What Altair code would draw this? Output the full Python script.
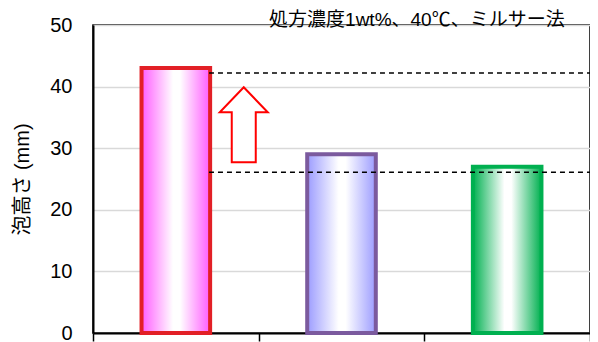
import altair as alt
import pandas as pd

categories = [1, 2, 3]
values = [43.0, 29.0, 27.0]
edge_colors = ["#FF5CFF", "#9C9CFF", "#00B050"]
stroke_colors = ["#E21F26", "#7B5A9E", "#00B050"]

ref_levels = [42.2, 26.1]
ref_start = 1.2
ref_end = 3.5

arrow_x = [1.41]
arrow_y = [33.8]

y_ticks = [0, 10, 20, 30, 40, 50]
x_ticks = [0.5, 1.5, 2.5, 3.5]
title_text = "処方濃度1wt%、40℃、ミルサー法"
y_title = "泡高さ (mm)"

FONT = "Liberation Sans, Noto Sans CJK JP, sans-serif"

bars_df = pd.DataFrame({"cat": categories, "val": values})

xscale = alt.Scale(domain=[0.5, 3.5], nice=False, zero=False)
yscale = alt.Scale(domain=[0, 50], nice=False)

x_axis = alt.Axis(values=x_ticks, labels=False, ticks=True, tickSize=8,
                  tickColor="black", tickWidth=1.5, grid=False,
                  domainColor="black", domainWidth=2, title=None)
y_axis = alt.Axis(values=y_ticks, grid=True, gridColor="#D9D9D9", gridWidth=1.5,
                  ticks=False, labelFontSize=20, labelPadding=21, labelFont=FONT,
                  labelColor="black", domainColor="black", domainWidth=2,
                  title=y_title, titleFont=FONT, titleFontSize=20,
                  titleFontWeight="normal", titleColor="black",
                  titleX=-71, titleBaseline="middle")


def X(field):
    return alt.X(field, type="quantitative", scale=xscale, axis=x_axis)


def Y(field):
    return alt.Y(field, type="quantitative", scale=yscale, axis=y_axis)


layers = []
for i, c in enumerate(categories):
    grad = alt.Gradient(
        gradient="linear",
        stops=[
            alt.GradientStop(color=edge_colors[i], offset=0),
            alt.GradientStop(color="#FFFFFF", offset=0.46),
            alt.GradientStop(color="#FFFFFF", offset=0.56),
            alt.GradientStop(color=edge_colors[i], offset=1),
        ],
        x1=0, x2=1, y1=0, y2=0,
    )
    layer = alt.Chart(bars_df).transform_filter(
        alt.datum.cat == c
    ).transform_calculate(
        x0="datum.cat - 0.207", x1="datum.cat + 0.207"
    ).mark_bar(fill=grad, stroke=stroke_colors[i], strokeWidth=4).encode(
        x=X("x0"),
        x2="x1:Q",
        y=Y("val"),
        y2=alt.datum(0),
    )
    layers.append(layer)

ref_df = pd.DataFrame({"y": ref_levels, "xs": [ref_start] * 2, "xe": [ref_end] * 2})
refs = alt.Chart(ref_df).mark_rule(color="black", strokeWidth=1.5, strokeDash=[5, 4]).encode(
    x=X("xs"),
    x2="xe:Q",
    y=Y("y"),
)

arrow_path = "M0,-1 L0.64,-0.333 L0.32,-0.333 L0.32,1 L-0.32,1 L-0.32,-0.333 L-0.64,-0.333 Z"
arrow_df = pd.DataFrame({"x": arrow_x, "y": arrow_y})
arrow = alt.Chart(arrow_df).mark_point(
    shape=arrow_path, size=5625, filled=True, fill="white", stroke="#FF0000",
    strokeWidth=2, opacity=1, fillOpacity=1,
).encode(
    x=X("x"),
    y=Y("y"),
)

title_df = pd.DataFrame({"x": [2.455], "y": [50], "t": [title_text]})
title = alt.Chart(title_df).mark_text(
    font=FONT, fontSize=19, color="black", baseline="bottom", dy=4.5, align="center"
).encode(
    x=X("x"),
    y=Y("y"),
    text="t:N",
)

chart = alt.layer(*layers, refs, arrow, title).properties(
    width=497, height=308,
    autosize=alt.AutoSizeParams(type="none"),
    padding={"left": 85, "top": 17, "right": 0, "bottom": 9},
).configure_view(stroke="black", strokeWidth=1.5)

chart.save("out.html", embed_options={"renderer": "svg", "actions": False})
